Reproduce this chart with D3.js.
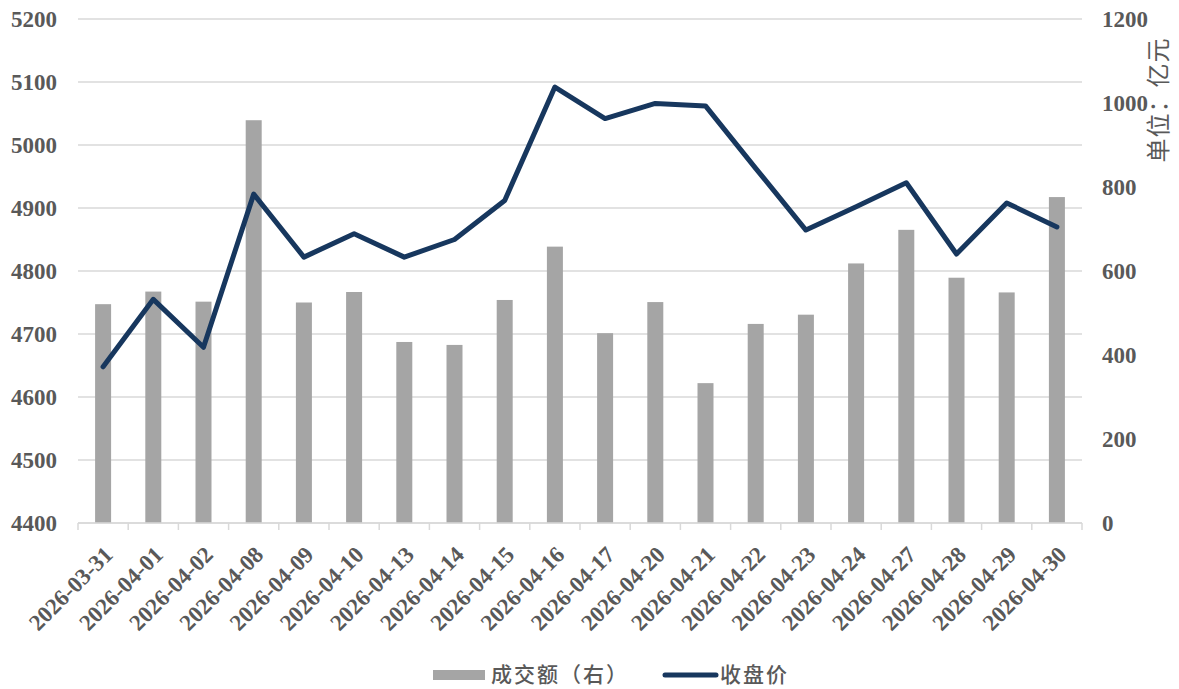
<!DOCTYPE html>
<html>
<head>
<meta charset="utf-8">
<script src="https://cdn.jsdelivr.net/npm/d3@7/dist/d3.min.js"></script>
<style>
  html, body { margin: 0; padding: 0; background: #fff; }
  svg { display: block; }
</style>
</head>
<body>
<div id="chart"></div>
<script>
// 成交额（柱，右轴）+ 收盘价（线，左轴）
const dates = ['2026-03-31', '2026-04-01', '2026-04-02', '2026-04-08', '2026-04-09', '2026-04-10',
  '2026-04-13', '2026-04-14', '2026-04-15', '2026-04-16', '2026-04-17', '2026-04-20', '2026-04-21',
  '2026-04-22', '2026-04-23', '2026-04-24', '2026-04-27', '2026-04-28', '2026-04-29', '2026-04-30'];
const volume = [521, 551, 527, 959, 525, 550, 431, 424, 531, 658, 452, 526, 333, 474, 496, 618, 698, 584, 549, 776];
const close = [4648, 4755, 4679, 4922, 4822, 4859, 4822, 4850, 4912, 5092, 5042, 5066, 5062, 4963, 4865, 4902, 4940, 4827, 4908, 4870];
const leftTicks = [4400, 4500, 4600, 4700, 4800, 4900, 5000, 5100, 5200];
const rightTicks = [0, 200, 400, 600, 800, 1000, 1200];
const seriesNames = ['成交额（右）', '收盘价'];
const unitLabel = '单位：亿元';

const width = 1179, height = 689;
const margin = { top: 19, right: 97, bottom: 166, left: 78 };
const W = width - margin.left - margin.right;
const H = height - margin.top - margin.bottom;

const textColor = '#595959';
const gridColor = '#d9d9d9';
const barColor = '#a5a5a5';
const lineColor = '#17375e';
const numFont = '"Liberation Serif", "Times New Roman", serif';
const cjkFont = '"Noto Sans CJK SC", sans-serif';

const x = d3.scaleBand().domain(dates).range([0, W]).padding(0);
const yL = d3.scaleLinear().domain([4400, 5200]).range([H, 0]);
const yR = d3.scaleLinear().domain([0, 1200]).range([H, 0]);
const barW = 16;

const svg = d3.select('#chart').append('svg')
  .attr('width', width).attr('height', height);

const g = svg.append('g').attr('transform', `translate(${margin.left},${margin.top})`);

// gridlines follow the left axis
g.append('g').selectAll('line').data(leftTicks).join('line')
  .attr('x1', 0).attr('x2', W)
  .attr('y1', d => yL(d)).attr('y2', d => yL(d))
  .attr('stroke', gridColor).attr('stroke-width', 1.5);

// left axis
g.append('g')
  .call(d3.axisLeft(yL).tickValues(leftTicks).tickFormat(d3.format('d')).tickSize(0).tickPadding(21))
  .call(ax => ax.select('.domain').remove())
  .selectAll('text')
  .attr('font-family', numFont).attr('font-size', '23px').attr('font-weight', 700)
  .attr('fill', textColor);

// right axis
g.append('g').attr('transform', `translate(${W},0)`)
  .call(d3.axisRight(yR).tickValues(rightTicks).tickFormat(d3.format('d')).tickSize(0).tickPadding(20))
  .call(ax => ax.select('.domain').remove())
  .selectAll('text')
  .attr('font-family', numFont).attr('font-size', '23px').attr('font-weight', 700)
  .attr('fill', textColor);

// bars
g.append('g').selectAll('rect').data(dates).join('rect')
  .attr('x', d => x(d) + (x.bandwidth() - barW) / 2)
  .attr('y', (d, i) => yR(volume[i]))
  .attr('width', barW)
  .attr('height', (d, i) => H - yR(volume[i]))
  .attr('fill', barColor);

// x axis: baseline + ticks at category edges
const xAxis = g.append('g').attr('transform', `translate(0,${H})`);
xAxis.append('line').attr('x1', 0).attr('x2', W)
  .attr('stroke', gridColor).attr('stroke-width', 1.5);
xAxis.selectAll('.edge').data(d3.range(dates.length + 1)).join('line')
  .attr('class', 'edge')
  .attr('x1', i => i * x.step()).attr('x2', i => i * x.step())
  .attr('y1', 0).attr('y2', 7)
  .attr('stroke', gridColor).attr('stroke-width', 1.5);
xAxis.selectAll('.lab').data(dates).join('text')
  .attr('class', 'lab')
  .attr('transform', d => `translate(${x(d) + x.bandwidth() / 2 + 11},${33}) rotate(-45)`)
  .attr('text-anchor', 'end')
  .attr('font-family', numFont).attr('font-size', '23px').attr('font-weight', 700)
  .attr('fill', textColor)
  .text(d => d);

// close line
const line = d3.line()
  .x((d, i) => x(dates[i]) + x.bandwidth() / 2)
  .y(d => yL(d));
g.append('path').datum(close)
  .attr('d', line)
  .attr('fill', 'none').attr('stroke', lineColor).attr('stroke-width', 5)
  .attr('stroke-linejoin', 'round').attr('stroke-linecap', 'round');

// unit label
svg.append('text')
  .attr('transform', 'translate(1167,100) rotate(-90)')
  .attr('text-anchor', 'middle')
  .attr('font-family', cjkFont).attr('font-size', '24px').attr('letter-spacing', '1px')
  .attr('fill', textColor)
  .text(unitLabel);

// legend
const leg = svg.append('g').attr('transform', 'translate(0,675)');
leg.append('rect').attr('x', 433).attr('y', -5).attr('width', 52).attr('height', 10).attr('fill', barColor);
leg.append('text').attr('x', 491).attr('y', 0).attr('dy', '0.35em')
  .attr('font-family', cjkFont).attr('font-size', '21px').attr('letter-spacing', '2px')
  .attr('font-weight', 500).attr('fill', textColor)
  .text(seriesNames[0]);
leg.append('line').attr('x1', 665).attr('x2', 716).attr('y1', 0).attr('y2', 0)
  .attr('stroke', lineColor).attr('stroke-width', 5).attr('stroke-linecap', 'round');
leg.append('text').attr('x', 720).attr('y', 0).attr('dy', '0.35em')
  .attr('font-family', cjkFont).attr('font-size', '21px').attr('letter-spacing', '2px')
  .attr('font-weight', 500).attr('fill', textColor)
  .text(seriesNames[1]);
</script>
</body>
</html>
